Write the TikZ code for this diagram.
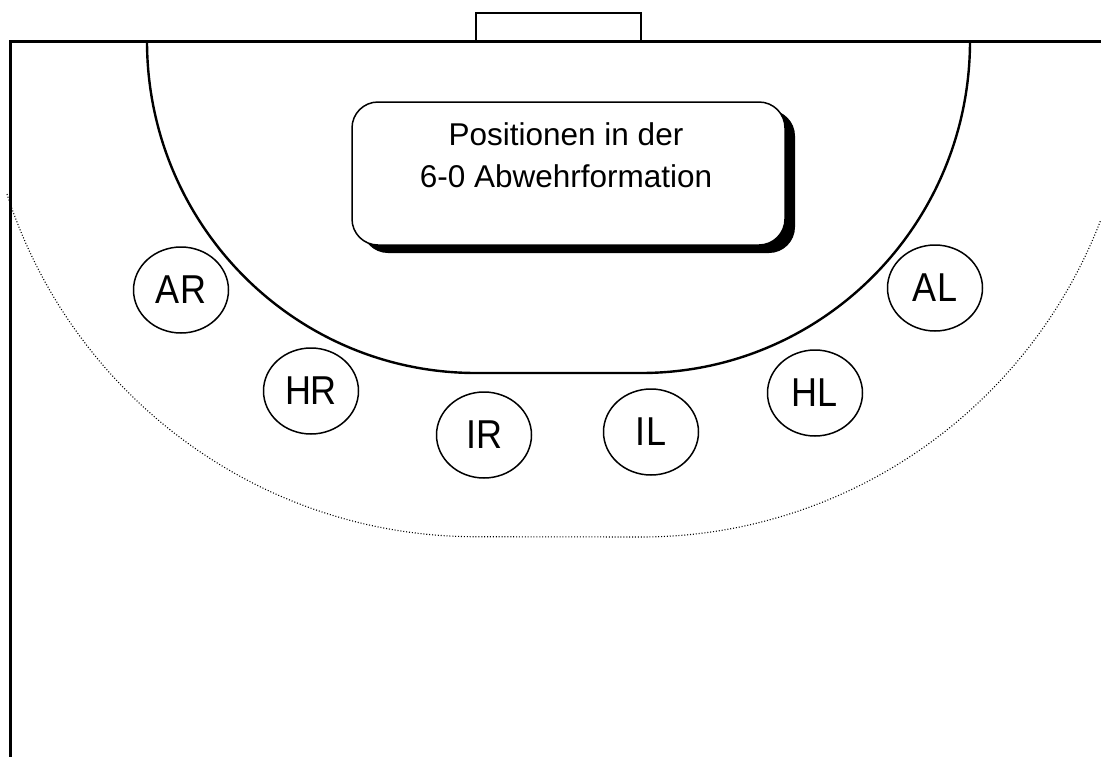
\documentclass[tikz,border=0pt]{standalone}
\usepackage{fontspec}
\setmainfont{Liberation Sans}
\usepackage{graphicx}
\usetikzlibrary{shapes.geometric,shadows}

% tall player label inside an ellipse
\newcommand{\poslabel}[1]{\scalebox{1}[1.12]{#1}}

\begin{document}
\begin{tikzpicture}[x=1pt,y=1pt,
  courtline/.style={line width=3pt, line cap=rect},
  goalline/.style={line width=2.8pt},
  sixmeter/.style={line width=2.4pt},
  ninemeter/.style={line width=1.1pt, dash pattern=on 1pt off 1.9pt},
  player/.style={draw, ellipse, line width=1.5pt, minimum width=95pt,
    minimum height=86pt, inner sep=0pt, font=\fontsize{36}{40}\selectfont},
  titlebox/.style={draw, fill=white, line width=1.5pt, rounded corners=26pt,
    minimum width=433pt, minimum height=143pt,
    general shadow={fill=black, shadow xshift=10pt, shadow yshift=-8pt}},
  titletext/.style={anchor=base, inner sep=0pt, font=\fontsize{31.5}{36}\selectfont}]
\useasboundingbox (0,0) rectangle (1101,-756);

% court outline: goal line and side line
\coordinate (sidebottom) at (10,-756);
\coordinate (corner) at (10,-41);
\coordinate (goalright) at (1101,-41);
\draw[courtline] (sidebottom) -- (corner) -- (goalright);

% goal
\coordinate (postL) at (476,-41);
\coordinate (postR) at (641,-41);
\draw[goalline] (postL) -- (476,-13) -- (641,-13) -- (postR);

% 6 m goal area line
\draw[sixmeter] (147,-41) arc[start angle=180, end angle=270, x radius=329pt, y radius=332pt]
  -- (641,-373) arc[start angle=270, end angle=360, x radius=329pt, y radius=332pt];

% 9 m free throw line
\draw[ninemeter] (7,-194) arc[start angle=198, end angle=270, x radius=493pt, y radius=496pt]
  -- (641,-537) arc[start angle=270, end angle=338.9, x radius=493pt, y radius=496pt];

% title box
\node[titlebox] (title) at (568.5,-173.5) {};
\node[titletext] (line1) at (566,-145) {Positionen in der};
\node[titletext] (line2) at (566,-187) {6-0 Abwehrformation};

% defenders
\node[player] (AR) at (181,-290) {\poslabel{AR}};
\node[player] (HR) at (311,-391) {\poslabel{HR}};
\node[player] (IR) at (484,-435) {\poslabel{IR}};
\node[player] (IL) at (651,-432) {\poslabel{IL}};
\node[player] (HL) at (815,-393) {\poslabel{HL}};
\node[player] (AL) at (935,-288) {\poslabel{AL}};
\end{tikzpicture}
\end{document}
